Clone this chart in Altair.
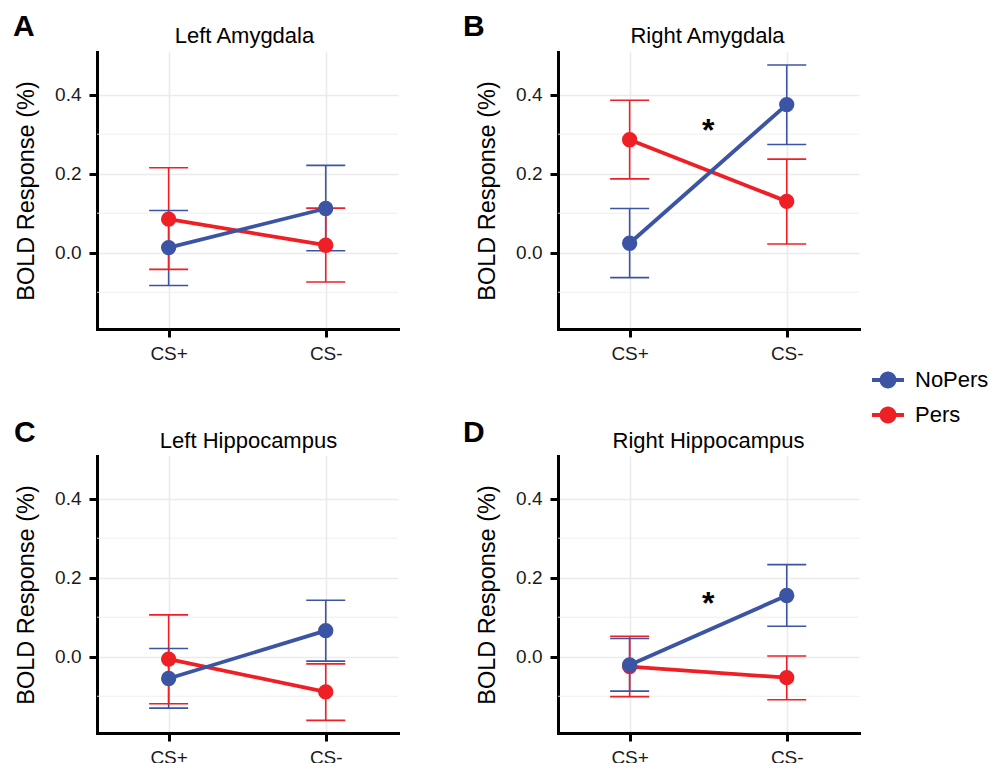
import altair as alt
import pandas as pd

FONT = "Liberation Sans"

regions = ["Left Amygdala", "Right Amygdala", "Left Hippocampus", "Right Hippocampus"]
letters = ["A", "B", "C", "D"]
conditions = ["CS+", "CS-"]
groups = ["NoPers", "Pers"]
colors = ["#3B54A4", "#EE1F25"]

# values per region, per condition [CS+, CS-]
nopers_mean = [[0.013, 0.112], [0.024, 0.375], [-0.055, 0.066], [-0.021, 0.155]]
nopers_low = [[-0.083, 0.005], [-0.063, 0.274], [-0.130, -0.011], [-0.087, 0.077]]
nopers_high = [[0.107, 0.221], [0.112, 0.475], [0.021, 0.143], [0.046, 0.233]]
pers_mean = [[0.085, 0.019], [0.286, 0.130], [-0.006, -0.089], [-0.025, -0.053]]
pers_low = [[-0.042, -0.074], [0.187, 0.022], [-0.119, -0.161], [-0.101, -0.109]]
pers_high = [[0.215, 0.113], [0.386, 0.237], [0.106, -0.018], [0.052, 0.002]]

star_regions = ["Right Amygdala", "Right Hippocampus"]
star_y = [0.308, 0.133]
star_pos = 1.5

major_ticks = [0.0, 0.2, 0.4]
minor_grid = [-0.1, 0.1, 0.3]
y_domain = [-0.193, 0.508]
x_domain = [0.544, 2.46]

W, H = 301, 277
# layout offsets of panel letters / titles (pixels relative to plot area, alphabetic baseline)
letter_dx = [-84, -95, -83, -95]
letter_dy = [-16.5, -16.5, -14.5, -14.5]
title_dx = [-3, -1, 1, 0]
title_dy = [-9, -9, -8, -8]

rows = []
for r_i, reg in enumerate(regions):
    for g, (m, lo, hi) in zip(groups, [(nopers_mean, nopers_low, nopers_high),
                                       (pers_mean, pers_low, pers_high)]):
        for c_i, cond in enumerate(conditions):
            rows.append(dict(region=reg, group=g, cond=cond, pos=c_i + 1,
                             mean=m[r_i][c_i], lo=lo[r_i][c_i], hi=hi[r_i][c_i]))
df = pd.DataFrame(rows)

x_axis = alt.Axis(values=[1, 2], labelExpr="datum.value == 1 ? 'CS+' : 'CS-'",
                  title=None, grid=True, labelPadding=7)
y_axis = alt.Axis(values=major_ticks, format=".1f", title="BOLD Response (%)",
                  grid=True, labelPadding=8, titlePadding=16)


def X(f):
    return alt.X(f, type="quantitative", scale=alt.Scale(domain=x_domain), axis=x_axis)


def Y(f):
    return alt.Y(f, type="quantitative", scale=alt.Scale(domain=y_domain), axis=y_axis)


# stroke / fill scales use the reversed domain order so their (disabled) legends
# are not merged with the colour legend
rev_scale = alt.Scale(domain=groups[::-1], range=colors[::-1])
stroke_enc = alt.Stroke("group:N", scale=rev_scale, legend=None)
fill_enc = alt.Fill("group:N", scale=rev_scale, legend=None)

legend_symbol = ("M-1,-0.13H-0.45V0.13H-1Z M0.45,-0.13H1V0.13H0.45Z "
                 "M0.53,0A0.53,0.53,0,1,1,-0.53,0A0.53,0.53,0,1,1,0.53,0Z")
color_legend = alt.Color(
    "group:N", scale=alt.Scale(domain=groups, range=colors),
    legend=alt.Legend(title=None, orient="none", legendX=775, legendY=312,
                      symbolType=legend_symbol, symbolSize=1024, symbolStrokeWidth=0,
                      labelFontSize=22, labelFont=FONT, labelColor="black",
                      labelOffset=11, rowPadding=8, padding=0))


def panel(i):
    reg = regions[i]
    d = df[df.region == reg]
    d_pts = pd.concat([d[d.group == "Pers"], d[d.group == "NoPers"]])
    layers = []
    layers.append(alt.Chart(pd.DataFrame({"v": minor_grid})).mark_rule(
        color="#EDEDED", strokeWidth=0.9).encode(y=Y("v")))
    base = alt.Chart(d)
    layers.append(base.mark_rule(strokeWidth=1.6).encode(
        x=X("pos"), y=Y("lo"), y2="hi", stroke=stroke_enc))
    for f in ["lo", "hi"]:
        layers.append(base.mark_tick(orient="horizontal", size=39, thickness=1.6, opacity=1,
                                     filled=True).encode(x=X("pos"), y=Y(f), fill=fill_enc))
    for g in ["Pers", "NoPers"]:
        layers.append(alt.Chart(d[d.group == g]).mark_line(strokeWidth=3.8).encode(
            x=X("pos"), y=Y("mean"), stroke=stroke_enc))
    layers.append(alt.Chart(d_pts).mark_circle(size=235, opacity=1).encode(
        x=X("pos"), y=Y("mean"), color=color_legend))
    if reg in star_regions:
        sy = star_y[star_regions.index(reg)]
        layers.append(alt.Chart(pd.DataFrame({"sx": [star_pos], "sy": [sy], "s": ["*"]})).mark_text(
            fontSize=32, fontWeight="bold", font=FONT, baseline="middle", align="center",
            color="black").encode(x=X("sx"), y=Y("sy"), text="s:N"))
    lab = pd.DataFrame({"t": [letters[i]], "title": [reg]})
    layers.append(alt.Chart(lab).mark_text(
        align="left", baseline="alphabetic", fontSize=30, fontWeight="bold", font=FONT,
        color="black").encode(x=alt.value(letter_dx[i]), y=alt.value(letter_dy[i]), text="t:N"))
    layers.append(alt.Chart(lab).mark_text(
        align="center", baseline="alphabetic", fontSize=22, font=FONT,
        color="black").encode(x=alt.value(W / 2 + title_dx[i]), y=alt.value(title_dy[i]),
                              text="title:N"))
    return alt.layer(*layers).properties(width=W, height=H)


row1 = alt.hconcat(panel(0), panel(1), spacing=64)
row2 = alt.hconcat(panel(2), panel(3), spacing=64)
chart = alt.vconcat(row1, row2, spacing=54).properties(
    padding={"left": 5, "top": 3, "right": 0, "bottom": 0}
).configure_view(
    stroke=None
).configure_axis(
    labelFont=FONT, labelFontSize=19, labelColor="#1a1a1a",
    titleFont=FONT, titleFontSize=23.5, titleColor="black", titleFontWeight="normal",
    domainColor="black", domainWidth=3, domainCap="square",
    tickColor="black", tickWidth=3, tickSize=8,
    gridColor="#EBEBEB", gridWidth=1.6
)

chart.save("out.html", embed_options={"renderer": "svg", "actions": False})
